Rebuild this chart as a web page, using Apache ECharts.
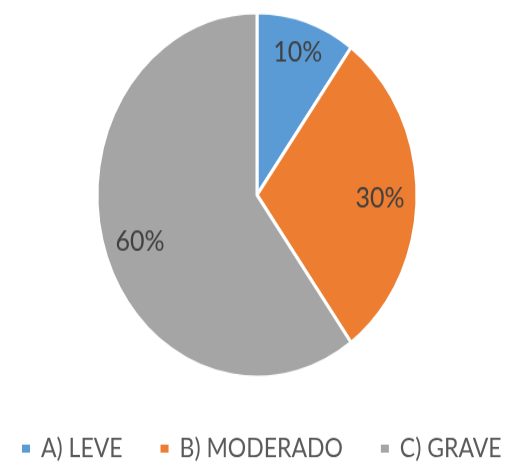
<!DOCTYPE html>
<html>
<head>
<meta charset="utf-8">
<script src="https://cdn.jsdelivr.net/npm/echarts@6/dist/echarts.min.js"></script>
<style>
  html, body { margin: 0; padding: 0; background: #fff; width: 512px; height: 465px; overflow: hidden; }
  /* the original picture is stretched vertically, so stretch the chart too */
  #chart { width: 512px; height: 465px; transform: scaleY(1.14); transform-origin: 0 0; }
</style>
</head>
<body>
<div id="chart"></div>
<script>
var categories = ['A) LEVE', 'B) MODERADO', 'C) GRAVE'];
var percents = [10, 30, 60];
var colors = ['#5B9BD5', '#ED7D31', '#A5A5A5'];

// shift labels from the default inside spot to where Excel put them
var labelShift = [[15, -46], [40, 3], [-38, 15]];

var pieData = categories.map(function (name, i) {
  return { name: name, value: percents[i], itemStyle: { color: colors[i] } };
});

var myChart = echarts.init(document.getElementById('chart'));
var option = {
  animation: false,
  legend: {
    data: categories,
    top: 377,
    left: 15,
    icon: 'rect',
    itemWidth: 10,
    itemHeight: 9,
    itemGap: 36,
    textStyle: {
      fontFamily: 'Lato',
      fontSize: 23,
      color: '#595959',
      padding: [0, 0, 0, 5]
    }
  },
  series: [
    {
      type: 'pie',
      center: [257, 171],
      radius: [0, 160],
      startAngle: 90,
      clockwise: true,
      data: pieData,
      itemStyle: { borderColor: '#fff', borderWidth: 3 },
      label: {
        show: true,
        position: 'inside',
        formatter: '{c}%',
        fontFamily: 'Lato',
        fontSize: 25,
        color: '#404040'
      },
      labelLine: { show: false },
      labelLayout: function (params) {
        var s = labelShift[params.dataIndex];
        return { dx: s[0], dy: s[1] };
      },
      emphasis: { disabled: true }
    }
  ]
};
myChart.setOption(option);
</script>
</body>
</html>
